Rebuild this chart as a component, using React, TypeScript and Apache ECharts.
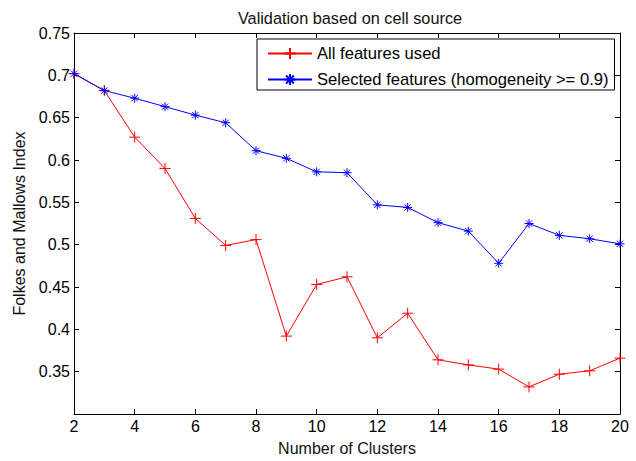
import React, { useEffect, useRef } from "react";
import * as echarts from "echarts";

const clusters = [2, 3, 4, 5, 6, 7, 8, 9, 10, 11, 12, 13, 14, 15, 16, 17, 18, 19, 20];
const allFeatures = [0.702, 0.682, 0.627, 0.590, 0.531, 0.499, 0.506, 0.392, 0.453, 0.462, 0.390, 0.419, 0.364, 0.358, 0.353, 0.332, 0.347, 0.351, 0.366];
const selectedFeatures = [0.702, 0.682, 0.673, 0.663, 0.653, 0.644, 0.611, 0.602, 0.586, 0.585, 0.547, 0.544, 0.526, 0.516, 0.478, 0.525, 0.511, 0.507, 0.501];
const seriesNames = ["All features used", "Selected features (homogeneity >= 0.9)"];
const titleText = "Validation based on cell source";
const xName = "Number of Clusters";
const yName = "Folkes and Mallows Index";

const PLUS = "path://M5,0L5,10M0,5L10,5";
const STAR = "path://M5,0L5,10M0,5L10,5M1.5,1.5L8.5,8.5M8.5,1.5L1.5,8.5";
const FONT = "Liberation Sans, Arial, sans-serif";
const FS = 16;

export default function App() {
  const ref = useRef<HTMLDivElement>(null);
  useEffect(() => {
    if (!ref.current) return;
    const chart = echarts.init(ref.current, undefined, { renderer: "svg" });
    const axisCommon = {
      axisLine: { show: true, onZero: false, lineStyle: { color: "#000", width: 1 } },
      axisTick: { show: true, inside: true, length: 5, lineStyle: { color: "#000" } },
      splitLine: { show: false },
    };
    chart.setOption({
      animation: false,
      backgroundColor: "#fff",
      textStyle: { fontFamily: FONT },
      title: {
        text: titleText,
        left: 345,
        textAlign: "center",
        top: 5,
        textStyle: { fontSize: 16.3, fontWeight: "normal", color: "#111", fontFamily: FONT },
      },
      grid: { left: 74, top: 33, width: 546, height: 382, containLabel: false },
      legend: {
        orient: "vertical",
        left: 257,
        top: 39,
        padding: [6, 6, 2, 10],
        itemGap: 9,
        itemWidth: 44,
        itemHeight: 14,
        borderColor: "#000",
        borderWidth: 1,
        backgroundColor: "#fff",
        borderRadius: 0,
        textStyle: { fontSize: 16.6, color: "#000", fontFamily: FONT, lineHeight: 16 },
        data: seriesNames,
      },
      xAxis: [
        {
          type: "value",
          min: 2,
          max: 20,
          interval: 2,
          name: xName,
          nameLocation: "middle",
          nameGap: 26,
          nameTextStyle: { fontSize: FS, color: "#111", fontFamily: FONT },
          axisLabel: { color: "#000", fontSize: FS, margin: 4, fontFamily: FONT },
          ...axisCommon,
        },
        {
          type: "value",
          min: 2,
          max: 20,
          interval: 2,
          position: "top",
          axisLabel: { show: false },
          ...axisCommon,
        },
      ],
      yAxis: [
        {
          type: "value",
          min: 0.3,
          max: 0.75,
          interval: 0.05,
          name: yName,
          nameLocation: "middle",
          nameGap: 43,
          nameTextStyle: { fontSize: FS, color: "#111", fontFamily: FONT },
          axisLabel: {
            color: "#000",
            fontSize: FS,
            margin: 4,
            fontFamily: FONT,
            formatter: (v: number) => (Math.abs(v - 0.3) < 1e-6 ? "" : String(Math.round(v * 100) / 100)),
          },
          ...axisCommon,
        },
        {
          type: "value",
          min: 0.3,
          max: 0.75,
          interval: 0.05,
          position: "right",
          axisLabel: { show: false },
          ...axisCommon,
        },
      ],
      series: [
        {
          name: seriesNames[0],
          type: "line",
          data: clusters.map((c, i) => [c, allFeatures[i]]),
          symbol: PLUS,
          symbolSize: 11,
          showAllSymbol: true,
          lineStyle: { color: "#ff0000", width: 1 },
          itemStyle: { color: "#ff0000", borderColor: "#ff0000", borderWidth: 1 },
        },
        {
          name: seriesNames[1],
          type: "line",
          data: clusters.map((c, i) => [c, selectedFeatures[i]]),
          symbol: STAR,
          symbolSize: 9,
          showAllSymbol: true,
          lineStyle: { color: "#0000ff", width: 1 },
          itemStyle: { color: "#0000ff", borderColor: "#0000ff", borderWidth: 1 },
        },
      ],
    });
    return () => chart.dispose();
  }, []);
  return <div ref={ref} style={{ position: "fixed", left: 0, top: 0, width: 636, height: 461 }} />;
}
